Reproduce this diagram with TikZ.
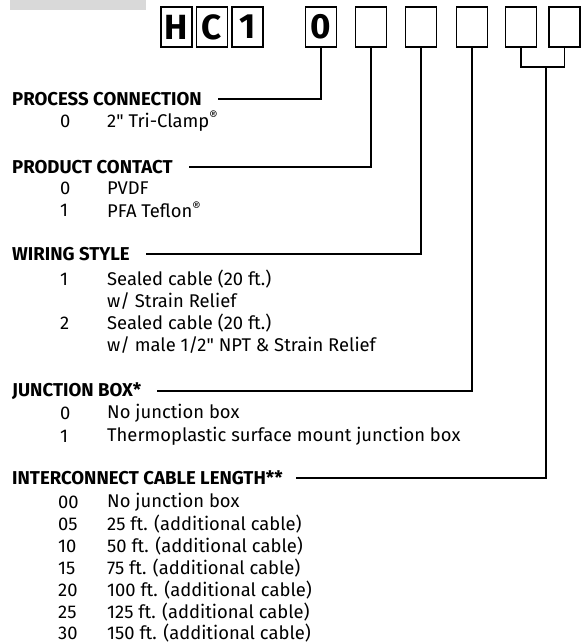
\documentclass[tikz,border=0pt]{standalone}
\usepackage{fontspec}
\setmainfont{Fira Sans}[Ligatures=TeXOff]
\begin{document}
\begin{tikzpicture}[x=1pt,y=1pt,yscale=-1,
  digit/.style={draw,line width=1.6pt,minimum width=31pt,minimum height=40pt,inner sep=0pt,font=\fontsize{35}{35}\selectfont\bfseries},
  head/.style={anchor=west,inner sep=0pt,font=\fontsize{18.6}{18.6}\selectfont\bfseries},
  item/.style={anchor=west,inner sep=0pt,font=\fontsize{18.4}{18.4}\selectfont},
  lead/.style={line width=1.6pt}]
\useasboundingbox (0,0) rectangle (581,644);

%Shape: Rectangle
\fill [color={rgb, 255:red, 217; green, 217; blue, 217 }] (10,0) rectangle (146,10);

%Shape: Squares
\node [digit] (bH) at (176.5,27) {H};
\node [digit] (bC) at (212,27) {C};
\node [digit] (b1) at (247.5,27) {1};
\node [digit] (b0) at (321,27) {0};
\node [digit] (bw) at (371,27) {};
\node [digit] (bx) at (421,27) {};
\node [digit] (by) at (472,27) {};
\node [digit] (bz) at (521,27) {};
\node [digit] (bzz) at (564.5,27) {};

% Text Node
\node [head] (hProc) at (12,99) {PROCESS CONNECTION};
\node [item] (proc0) at (60,121) {0};
\node [item] (proc0t) at (107,121) {2" Tri-Clamp\textsuperscript{®}};

% Text Node
\node [head] (hProd) at (12,167) {PRODUCT CONTACT};
\node [item] (prod0) at (60,188) {0};
\node [item] (prod0t) at (107,188) {PVDF};
\node [item] (prod1) at (60,210) {1};
\node [item] (prod1t) at (107,210) {PFA Teflon\textsuperscript{®}};

% Text Node
\node [head] (hWire) at (12,254) {WIRING STYLE};
\node [item] (wire1) at (60,279) {1};
\node [item] (wire1t) at (107,279) {Sealed cable (20 ft.)};
\node [item] (wire1u) at (107,301) {w/ Strain Relief};
\node [item] (wire2) at (60,323) {2};
\node [item] (wire2t) at (107,323) {Sealed cable (20 ft.)};
\node [item] (wire2u) at (107,345) {w/ male 1/2" NPT \& Strain Relief};

% Text Node
\node [head] (hJbox) at (12,391) {JUNCTION BOX*};
\node [item] (jbox0) at (60,413) {0};
\node [item] (jbox0t) at (107,413) {No junction box};
\node [item] (jbox1) at (60,436) {1};
\node [item] (jbox1t) at (107,436) {Thermoplastic surface mount junction box};

% Text Node
\node [head] (hCable) at (12,478) {INTERCONNECT CABLE LENGTH**};
\node [item] (cab00) at (58,502) {00};
\node [item] (cab00t) at (107,502) {No junction box};
\node [item] (cab05) at (58,524) {05};
\node [item] (cab05t) at (107,524) {25 ft. (additional cable)};
\node [item] (cab10) at (58,546) {10};
\node [item] (cab10t) at (107,546) {50 ft. (additional cable)};
\node [item] (cab15) at (58,568) {15};
\node [item] (cab15t) at (107,568) {75 ft. (additional cable)};
\node [item] (cab20) at (58,590) {20};
\node [item] (cab20t) at (107,590) {100 ft. (additional cable)};
\node [item] (cab25) at (58,612) {25};
\node [item] (cab25t) at (107,612) {125 ft. (additional cable)};
\node [item] (cab30) at (58,633) {30};
\node [item] (cab30t) at (107,633) {150 ft. (additional cable)};

%Straight Lines
\draw [lead] (b0.south) |- ([xshift=16pt]hProc.east);
\draw [lead] (bw.south) |- ([xshift=16pt]hProd.east);
\draw [lead] (bx.south) |- ([xshift=16pt]hWire.east);
\draw [lead] (by.south) |- ([xshift=16pt]hJbox.east);
%Bracket
\coordinate (brk) at (546,67);
\draw [lead] (bz.south) |- (brk) -| (bzz.south);
\draw [lead] (brk) |- ([xshift=13pt]hCable.east);

\end{tikzpicture}
\end{document}
